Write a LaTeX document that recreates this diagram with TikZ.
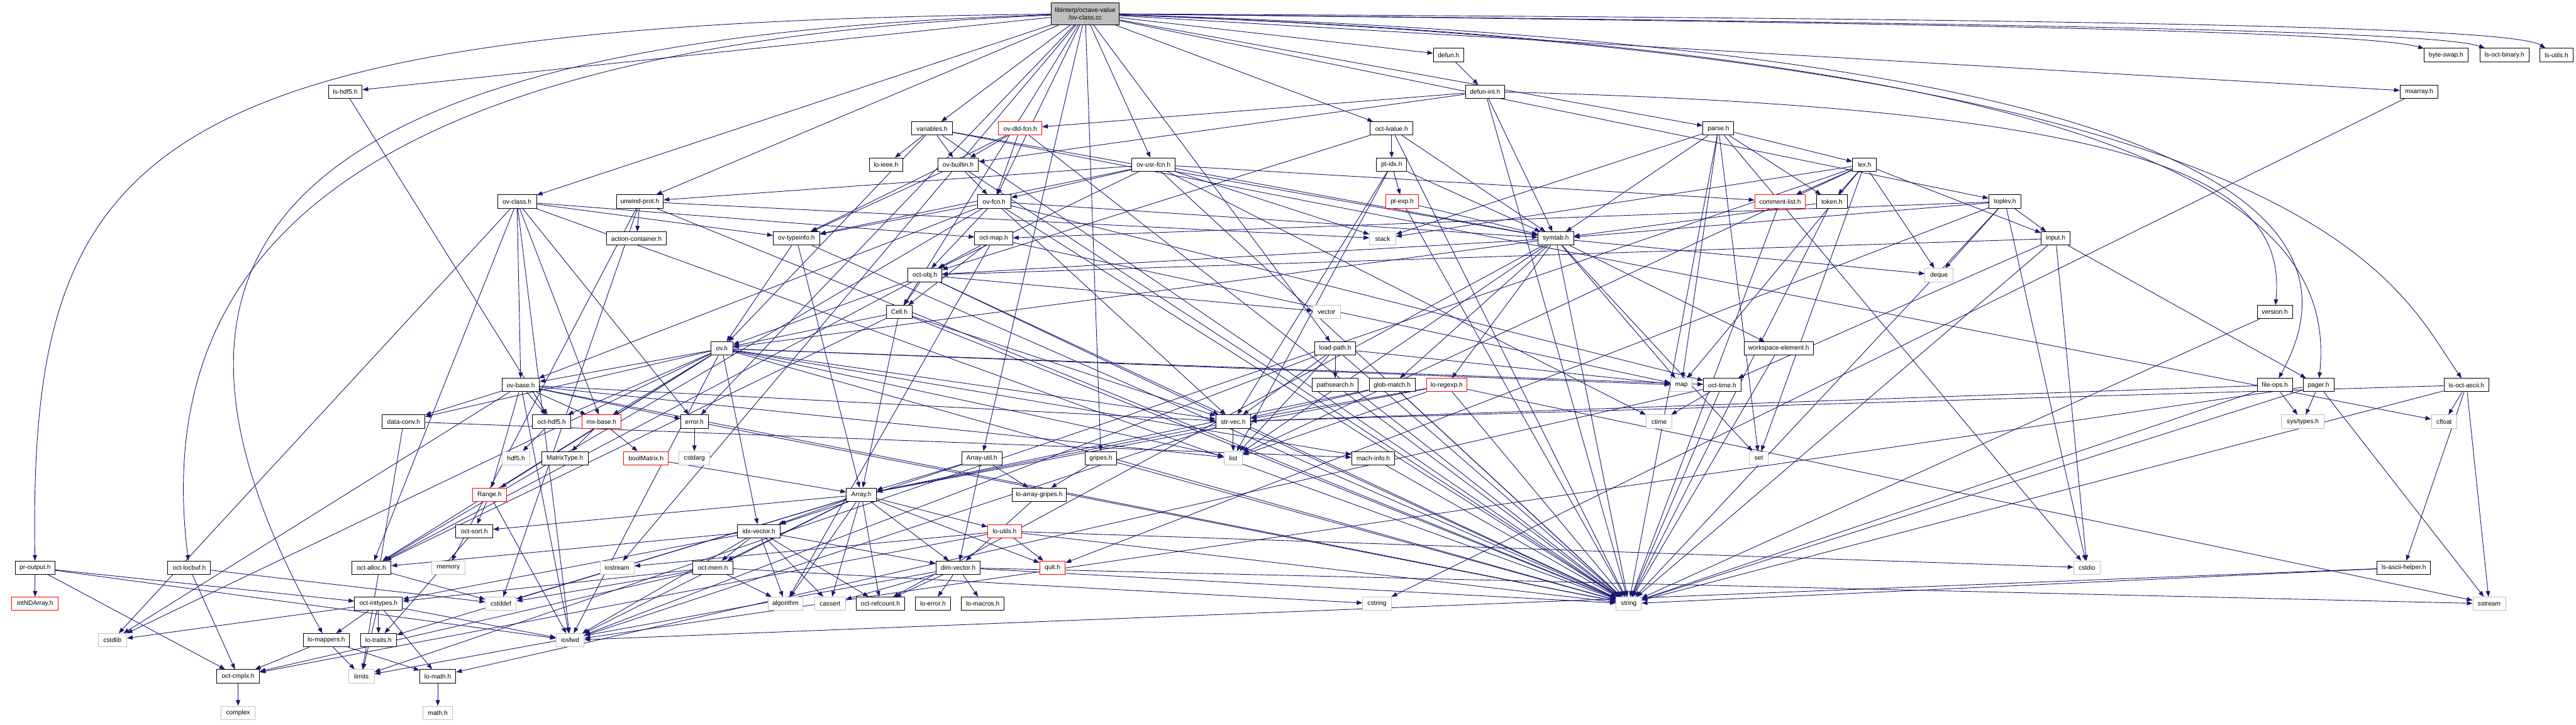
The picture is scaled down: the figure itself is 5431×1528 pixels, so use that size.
\documentclass[tikz,border=0pt]{standalone}
\usepackage{fontspec}
\newfontfamily\labfont{Liberation Sans}
\usetikzlibrary{arrows.meta}
\definecolor{edgeblue}{HTML}{191970}
\definecolor{sysgrey}{HTML}{BFBFBF}
\definecolor{truncred}{HTML}{FF0000}
\pgfdeclarelayer{back}
\pgfdeclarelayer{bg}
\pgfsetlayers{back,bg,main}
\tikzset{
  hdr/.style={draw=black, fill=white, line width=1.3pt, rectangle, minimum height=28pt, inner sep=0pt,
              font=\labfont\fontsize{13.5}{15}\selectfont, text=black},
  trunc/.style={hdr, draw=truncred},
  sys/.style={hdr, draw=sysgrey},
  rootnode/.style={hdr, fill=sysgrey, minimum height=46pt, align=center},
  dep/.style={draw=edgeblue, line width=1.2pt, -{Triangle[length=12pt,width=9pt]}, fill=none}
}
\begin{document}
\begin{tikzpicture}[x=1pt,y=-1pt]
\useasboundingbox (0,0) rectangle (5431,1528);
\begin{pgfonlayer}{back}
\fill[white] (0,0) rectangle (5431,1528);
\end{pgfonlayer}
% ---------- nodes ----------
\node[rootnode, minimum width=143pt] (root) at (2288,29) {libinterp/octave-value\\/ov-class.cc};
\node[hdr, minimum width=71pt] (lshdf) at (728,193) {ls-hdf5.h};
\node[hdr, minimum width=82pt] (ovclassh) at (1090,425) {ov-class.h};
\node[hdr, minimum width=99pt] (unwind) at (1349,425) {unwind-prot.h};
\node[hdr, minimum width=126pt] (action) at (1342,503) {action-container.h};
\node[hdr, minimum width=85pt] (variables) at (1965,271) {variables.h};
\node[trunc, minimum width=91pt] (ovdld) at (2151,271) {ov-dld-fcn.h};
\node[hdr, minimum width=71pt] (loieee) at (1868,347) {lo-ieee.h};
\node[hdr, minimum width=86pt] (ovbuiltin) at (2020,347) {ov-builtin.h};
\node[hdr, minimum width=91pt] (ovusr) at (2432,347) {ov-usr-fcn.h};
\node[hdr, minimum width=71pt] (ovfcn) at (2096,425) {ov-fcn.h};
\node[hdr, minimum width=98pt] (ovtypeinfo) at (1679,503) {ov-typeinfo.h};
\node[hdr, minimum width=80pt] (octmap) at (2095,503) {oct-map.h};
\node[hdr, minimum width=64pt] (defun) at (3054,116) {defun.h};
\node[hdr, minimum width=83pt] (defunint) at (3131,193) {defun-int.h};
\node[hdr, minimum width=90pt] (octlvalue) at (2934,271) {oct-lvalue.h};
\node[hdr, minimum width=65pt] (parse) at (3623,271) {parse.h};
\node[hdr, minimum width=64pt] (ptidx) at (2934,347) {pt-idx.h};
\node[hdr, minimum width=50pt] (lex) at (3931,347) {lex.h};
\node[trunc, minimum width=70pt] (ptexp) at (2956,425) {pt-exp.h};
\node[trunc, minimum width=107pt] (commentlist) at (3753,425) {comment-list.h};
\node[hdr, minimum width=65pt] (token) at (3862,425) {token.h};
\node[sys, minimum width=55pt] (stack) at (2915,503) {stack};
\node[hdr, minimum width=75pt] (symtab) at (3280,503) {symtab.h};
\node[hdr, minimum width=92pt] (byteswap) at (5157,116) {byte-swap.h};
\node[hdr, minimum width=103pt] (lsoctbinary) at (5280,116) {ls-oct-binary.h};
\node[hdr, minimum width=71pt] (lsutils) at (5390,116) {ls-utils.h};
\node[hdr, minimum width=80pt] (mxarray) at (5100,193) {mxarray.h};
\node[hdr, minimum width=68pt] (toplev) at (4227,425) {toplev.h};
\node[hdr, minimum width=61pt] (input) at (4334,503) {input.h};
\node[hdr, minimum width=78pt] (ovbase) at (1098,812) {ov-base.h};
\node[hdr, minimum width=90pt] (dataconv) at (851,889) {data-conv.h};
\node[hdr, minimum width=80pt] (octhdf5) at (1163,889) {oct-hdf5.h};
\node[trunc, minimum width=83pt] (mxbase) at (1268,889) {mx-base.h};
\node[sys, minimum width=59pt] (hdf5) at (1088,966) {hdf5.h};
\node[hdr, minimum width=98pt] (matrixtype) at (1191,966) {MatrixType.h};
\node[trunc, minimum width=94pt] (boolmatrix) at (1362,966) {boolMatrix.h};
\node[hdr, minimum width=71pt] (octobj) at (1950,580) {oct-obj.h};
\node[hdr, minimum width=55pt] (cell) at (1896,658) {Cell.h};
\node[hdr, minimum width=46pt] (ovh) at (1522,735) {ov.h};
\node[hdr, minimum width=58pt] (error) at (1464,889) {error.h};
\node[hdr, minimum width=73pt] (strvec) at (2600,889) {str-vec.h};
\node[sys, minimum width=65pt] (cstdarg) at (1464,966) {cstdarg};
\node[hdr, minimum width=85pt] (arrayutil) at (2070,966) {Array-util.h};
\node[hdr, minimum width=67pt] (gripes) at (2321,966) {gripes.h};
\node[sys, minimum width=39pt] (list) at (2600,966) {list};
\node[sys, minimum width=58pt] (vector) at (2797,658) {vector};
\node[hdr, minimum width=87pt] (loadpath) at (2815,735) {load-path.h};
\node[hdr, minimum width=146pt] (workspace) at (3750,735) {workspace-element.h};
\node[hdr, minimum width=97pt] (pathsearch) at (2815,812) {pathsearch.h};
\node[hdr, minimum width=97pt] (globmatch) at (2935,812) {glob-match.h};
\node[trunc, minimum width=85pt] (loregexp) at (3050,812) {lo-regexp.h};
\node[sys, minimum width=46pt] (map) at (3545,812) {map};
\node[hdr, minimum width=79pt] (octtime) at (3631,812) {oct-time.h};
\node[sys, minimum width=55pt] (ctime) at (3498,889) {ctime};
\node[hdr, minimum width=90pt] (machinfo) at (2895,966) {mach-info.h};
\node[sys, minimum width=39pt] (set) at (3708,966) {set};
\node[sys, minimum width=59pt] (deque) at (4088,580) {deque};
\node[hdr, minimum width=74pt] (version) at (4796,658) {version.h};
\node[hdr, minimum width=74pt] (fileops) at (4796,812) {file-ops.h};
\node[hdr, minimum width=65pt] (pager) at (4888,812) {pager.h};
\node[hdr, minimum width=95pt] (lsoctascii) at (5200,812) {ls-oct-ascii.h};
\node[sys, minimum width=90pt] (systypes) at (4855,889) {sys/types.h};
\node[sys, minimum width=54pt] (cfloat) at (5153,889) {cfloat};
\node[trunc, minimum width=71pt] (range) at (1032,1043) {Range.h};
\node[hdr, minimum width=78pt] (octsort) at (1000,1120) {oct-sort.h};
\node[hdr, minimum width=84pt] (proutput) at (74,1197) {pr-output.h};
\node[hdr, minimum width=90pt] (octlocbuf) at (399,1197) {oct-locbuf.h};
\node[hdr, minimum width=83pt] (octalloc) at (783,1197) {oct-alloc.h};
\node[sys, minimum width=70pt] (memory) at (945,1197) {memory};
\node[sys, minimum width=72pt] (iostream) at (1301,1197) {iostream};
\node[trunc, minimum width=98pt] (intndarray) at (74,1273) {intNDArray.h};
\node[hdr, minimum width=101pt] (octinttypes) at (798,1273) {oct-inttypes.h};
\node[sys, minimum width=65pt] (cstddef) at (1056,1273) {cstddef};
\node[sys, minimum width=60pt] (cstdlib) at (237,1350) {cstdlib};
\node[hdr, minimum width=97pt] (lomappers) at (688,1350) {lo-mappers.h};
\node[hdr, minimum width=76pt] (lotraits) at (798,1350) {lo-traits.h};
\node[sys, minimum width=59pt] (iosfwd) at (1202,1350) {iosfwd};
\node[hdr, minimum width=90pt] (octcmplx) at (502,1426) {oct-cmplx.h};
\node[sys, minimum width=54pt] (limits) at (762,1426) {limits};
\node[hdr, minimum width=76pt] (lomath) at (923,1426) {lo-math.h};
\node[sys, minimum width=71pt] (complex) at (502,1503) {complex};
\node[sys, minimum width=62pt] (mathh) at (923,1503) {math.h};
\node[hdr, minimum width=63pt] (array) at (1816,1043) {Array.h};
\node[hdr, minimum width=114pt] (loarraygripes) at (2191,1043) {lo-array-gripes.h};
\node[hdr, minimum width=90pt] (idxvector) at (1600,1120) {idx-vector.h};
\node[trunc, minimum width=71pt] (loutils) at (2118,1120) {lo-utils.h};
\node[hdr, minimum width=84pt] (octmem) at (1503,1197) {oct-mem.h};
\node[hdr, minimum width=94pt] (dimvector) at (2020,1197) {dim-vector.h};
\node[trunc, minimum width=54pt] (quit) at (2219,1197) {quit.h};
\node[sys, minimum width=74pt] (algorithm) at (1656,1273) {algorithm};
\node[sys, minimum width=65pt] (cassert) at (1750,1273) {cassert};
\node[hdr, minimum width=102pt] (octrefcount) at (1856,1273) {oct-refcount.h};
\node[hdr, minimum width=73pt] (loerror) at (1967,1273) {lo-error.h};
\node[hdr, minimum width=90pt] (lomacros) at (2072,1273) {lo-macros.h};
\node[sys, minimum width=60pt] (cstring) at (2903,1273) {cstring};
\node[sys, minimum width=53pt] (string) at (3434,1273) {string};
\node[sys, minimum width=56pt] (cstdio) at (4400,1197) {cstdio};
\node[hdr, minimum width=113pt] (lsasciihelper) at (5068,1197) {ls-ascii-helper.h};
\node[sys, minimum width=69pt] (sstream) at (5248,1273) {sstream};
% ---------- edges ----------
\begin{pgfonlayer}{bg}
\draw[dep] (root) .. controls (300,50) and (60,300) .. (proutput);
\draw[dep] (root) .. controls (600,80) and (211,500) .. (lomappers);
\draw[dep] (root) .. controls (800,90) and (312,500) .. (octlocbuf);
\draw[dep] (root) .. controls (4900,120) and (5050,600) .. (lsoctascii);
\draw[dep] (root) .. controls (4700,110) and (4920,500) .. (pager);
\draw[dep] (root) .. controls (4800,100) and (4970,500) .. (fileops);
\draw[dep] (root) .. controls (4300,50) and (5000,70) .. (byteswap);
\draw[dep] (root) .. controls (4500,50) and (5150,70) .. (lsoctbinary);
\draw[dep] (root) .. controls (4600,40) and (5300,60) .. (lsutils);
\draw[dep] (defunint) .. controls (4600,230) and (4820,400) .. (version);
\foreach \s/\t in {
 root/iostream, root/arrayutil, root/cell, root/defun, root/error,
 root/gripes, root/loadpath, root/lshdf, root/mxarray,
 root/octlvalue, root/ovclassh, root/ovfcn, root/ovusr, root/parse, root/toplev,
 root/unwind, root/variables,
 lshdf/octhdf5,
 ovclassh/cstdlib, ovclassh/iosfwd, ovclassh/string, ovclassh/mxbase, ovclassh/error,
 ovclassh/octalloc, ovclassh/octmap, ovclassh/ovbase, ovclassh/ovtypeinfo,
 unwind/cstddef, unwind/stack, unwind/memory, unwind/action, unwind/string,
 variables/cfloat, variables/string, variables/loieee, variables/ovh, variables/ovbuiltin, variables/symtab,
 defun/defunint,
 defunint/string, defunint/ovbuiltin, defunint/ovdld, defunint/symtab,
 ovdld/string, ovdld/ovfcn, ovdld/ovbuiltin, ovdld/ovtypeinfo,
 octlvalue/string, octlvalue/octobj, octlvalue/ptidx, octlvalue/symtab,
 parse/cstdio, parse/string, parse/stack, parse/map, parse/set, parse/lex, parse/symtab, parse/token,
 ovbuiltin/string, ovbuiltin/ovfcn, ovbuiltin/ovtypeinfo,
 ovusr/ctime, ovusr/string, ovusr/stack, ovusr/commentlist, ovusr/octobj, ovusr/ovfcn,
 ovusr/ovtypeinfo, ovusr/symtab, ovusr/unwind,
 ptidx/list, ptidx/strvec, ptidx/ptexp, ptidx/symtab,
 lex/deque, lex/limits, lex/list, lex/map, lex/set, lex/stack, lex/commentlist, lex/input, lex/token,
 commentlist/string,
 token/string, token/symtab,
 toplev/cstdio, toplev/deque, toplev/string, toplev/quit, toplev/input, toplev/octmap, toplev/symtab,
 input/cstdio, input/string, input/octtime, input/octobj, input/pager,
 mxarray/cstring,
 octmap/algorithm, octmap/map, octmap/cell, octmap/octobj,
 ovtypeinfo/string, ovtypeinfo/array, ovtypeinfo/ovh,
 ovfcn/string, ovfcn/octtime, ovfcn/strvec, ovfcn/octalloc, ovfcn/octobj, ovfcn/ovbase,
 ovfcn/ovtypeinfo, ovfcn/symtab,
 ptexp/string, ptexp/symtab,
 symtab/deque, symtab/list, symtab/map, symtab/set, symtab/string, symtab/globmatch,
 symtab/loregexp, symtab/octobj, symtab/workspace, symtab/octrefcount, symtab/ovh,
 octobj/string, octobj/vector, octobj/octalloc, octobj/strvec, octobj/cell, octobj/ovh,
 cell/string, cell/array, cell/octalloc, cell/strvec, cell/ovh,
 ovh/cstdlib, ovh/iosfwd, ovh/string, ovh/list, ovh/map, ovh/range, ovh/dataconv,
 ovh/idxvector, ovh/machinfo, ovh/mxbase, ovh/octalloc, ovh/octtime, ovh/strvec,
 ovh/octhdf5, ovh/ovbase,
 ovbase/cstdlib, ovbase/iosfwd, ovbase/list, ovbase/string, ovbase/range, ovbase/dataconv,
 ovbase/mxbase, ovbase/strvec, ovbase/octhdf5, ovbase/error,
 dataconv/limits, dataconv/machinfo,
 octhdf5/hdf5,
 mxbase/matrixtype, mxbase/boolmatrix,
 boolmatrix/array,
 error/cstdarg, error/string,
 strvec/iosfwd, strvec/list, strvec/string, strvec/array,
 arrayutil/array, arrayutil/dimvector, arrayutil/idxvector, arrayutil/loarraygripes,
 gripes/string, gripes/loarraygripes,
 loadpath/iosfwd, loadpath/list, loadpath/map, loadpath/string, loadpath/pathsearch, loadpath/strvec,
 workspace/string, pathsearch/string,
 globmatch/string, globmatch/array, globmatch/strvec,
 loregexp/list, loregexp/sstream, loregexp/string, loregexp/array, loregexp/strvec,
 octtime/ctime, octtime/string, octtime/lomath,
 fileops/string, fileops/systypes, fileops/strvec,
 pager/iosfwd, pager/sstream, pager/string, pager/systypes,
 lsoctascii/cfloat, lsoctascii/sstream, lsoctascii/string, lsoctascii/strvec, lsoctascii/lsasciihelper,
 version/string, machinfo/string,
 range/iosfwd, range/octsort,
 array/cassert, array/cstddef, array/algorithm, array/iosfwd, array/dimvector, array/idxvector,
 array/lotraits, array/loutils, array/octsort, array/quit, array/octmem, array/octrefcount,
 loarraygripes/dimvector,
 octsort/lotraits,
 idxvector/cassert, idxvector/algorithm, idxvector/iosfwd, idxvector/dimvector,
 idxvector/octinttypes, idxvector/octalloc, idxvector/octmem, idxvector/octrefcount,
 loutils/cstdio, loutils/iostream, loutils/string, loutils/octcmplx, loutils/quit,
 proutput/iosfwd, proutput/octcmplx, proutput/intndarray, proutput/octinttypes,
 octlocbuf/cstddef, octlocbuf/octcmplx,
 octalloc/cstddef,
 octmem/cstddef, octmem/cstring, octmem/algorithm, octmem/octcmplx, octmem/octinttypes,
 dimvector/cassert, dimvector/limits, dimvector/sstream, dimvector/string, dimvector/loerror,
 dimvector/lomacros, dimvector/octrefcount,
 octinttypes/cstdlib, octinttypes/limits, octinttypes/iosfwd, octinttypes/lotraits,
 octinttypes/lomath, octinttypes/lomappers,
 lomappers/limits, lomappers/octcmplx, lomappers/lomath,
 octcmplx/complex, lomath/mathh,
 lsasciihelper/iosfwd, lsasciihelper/string}
 \draw[dep] (\s) -- (\t);
\end{pgfonlayer}
\end{tikzpicture}
\end{document}
